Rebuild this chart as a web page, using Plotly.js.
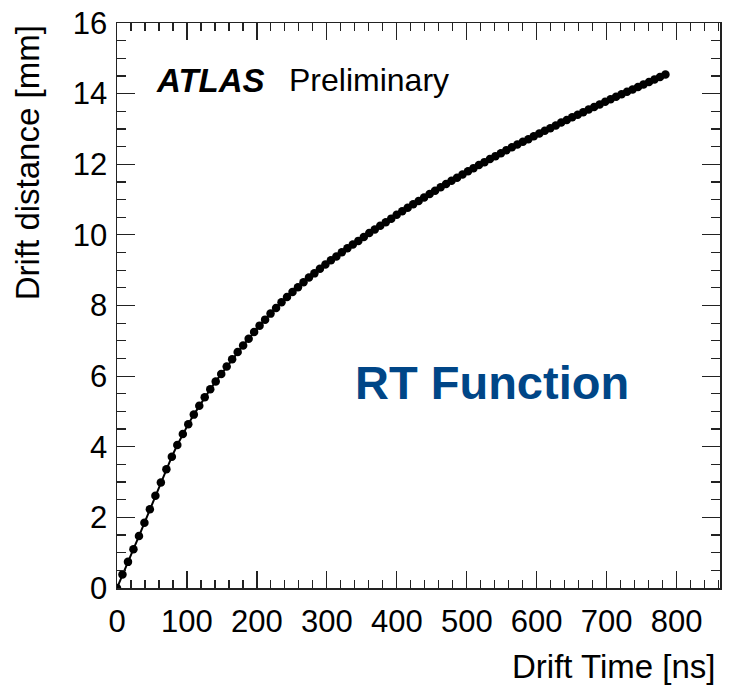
<!DOCTYPE html>
<html>
<head>
<meta charset="utf-8">
<script src="https://cdn.plot.ly/plotly-3.0.1.min.js"></script>
<style>html,body{margin:0;padding:0;background:#fff;}#chart{width:730px;height:686px;}</style>
</head>
<body>
<div id="chart"></div>
<script>
// Drift time [ns]
const driftTime = [0, 7.8, 15.7, 23.5, 31.4, 39.2, 47.0, 54.9, 62.7, 70.6, 78.4, 86.2, 94.1, 101.9, 109.8, 117.6, 125.4, 133.3, 141.1, 149.0,
  156.8, 164.6, 172.5, 180.3, 188.2, 196.0, 203.8, 211.7, 219.5, 227.4, 235.2, 243.0, 250.9, 258.7, 266.6, 274.4, 282.2, 290.1, 297.9, 305.8,
  313.6, 321.4, 329.3, 337.1, 345.0, 352.8, 360.6, 368.5, 376.3, 384.2, 392.0, 399.8, 407.7, 415.5, 423.4, 431.2, 439.0, 446.9, 454.7, 462.6,
  470.4, 478.2, 486.1, 493.9, 501.8, 509.6, 517.4, 525.3, 533.1, 541.0, 548.8, 556.6, 564.5, 572.3, 580.2, 588.0, 595.8, 603.7, 611.5, 619.4,
  627.2, 635.0, 642.9, 650.7, 658.6, 666.4, 674.2, 682.1, 689.9, 697.8, 705.6, 713.4, 721.3, 729.1, 737.0, 744.8, 752.6, 760.5, 768.3, 776.2, 784.0];
// Drift distance [mm]
const driftDistance = [0, 0.38, 0.74, 1.10, 1.47, 1.85, 2.23, 2.61, 2.99, 3.36, 3.72, 4.05, 4.36, 4.64, 4.91, 5.16, 5.40, 5.63, 5.85, 6.06,
  6.27, 6.48, 6.68, 6.87, 7.06, 7.25, 7.43, 7.60, 7.77, 7.93, 8.09, 8.24, 8.38, 8.52, 8.66, 8.79, 8.91, 9.04, 9.16, 9.28,
  9.39, 9.51, 9.62, 9.73, 9.83, 9.94, 10.05, 10.15, 10.26, 10.36, 10.46, 10.57, 10.67, 10.77, 10.87, 10.96, 11.06, 11.16, 11.25, 11.35,
  11.44, 11.53, 11.62, 11.71, 11.80, 11.89, 11.98, 12.06, 12.15, 12.23, 12.31, 12.40, 12.48, 12.56, 12.64, 12.71, 12.79, 12.87, 12.95, 13.02,
  13.10, 13.18, 13.25, 13.33, 13.40, 13.47, 13.55, 13.62, 13.69, 13.77, 13.84, 13.91, 13.98, 14.05, 14.12, 14.19, 14.26, 14.33, 14.40, 14.47, 14.54];

const xTickVals = [0, 100, 200, 300, 400, 500, 600, 700, 800];
const yTickVals = [0, 2, 4, 6, 8, 10, 12, 14, 16];

const FONT = 'Liberation Sans, Arial, sans-serif';

const trace = {
  x: driftTime,
  y: driftDistance,
  type: 'scatter',
  mode: 'lines+markers',
  line: {color: '#000', width: 2},
  marker: {color: '#000', size: 8.5, symbol: 'circle'},
  hoverinfo: 'skip',
  showlegend: false
};

const axisCommon = {
  showgrid: false,
  zeroline: false,
  showline: true,
  linecolor: '#222',
  linewidth: 1.5,
  mirror: 'ticks',
  ticks: 'inside',
  tickcolor: '#222',
  tickwidth: 1.2,
  tickfont: {family: FONT, size: 31, color: '#000'},
  fixedrange: true
};

const layout = {
  width: 730,
  height: 686,
  margin: {l: 117, r: 10, t: 23, b: 98},
  paper_bgcolor: '#fff',
  plot_bgcolor: '#fff',
  xaxis: Object.assign({}, axisCommon, {
    range: [0, 862],
    tickmode: 'array',
    tickvals: xTickVals,
    ticktext: xTickVals.map(String),
    ticklen: 17,
    ticklabelstandoff: 5,
    minor: {dtick: 20, tick0: 0, ticklen: 8, ticks: 'inside', tickcolor: '#222', tickwidth: 1.2}
  }),
  yaxis: Object.assign({}, axisCommon, {
    range: [0, 16],
    tickmode: 'array',
    tickvals: yTickVals,
    ticktext: yTickVals.map(String),
    ticklen: 18,
    ticklabelstandoff: 2,
    minor: {dtick: 0.5, tick0: 0, ticklen: 9, ticks: 'inside', tickcolor: '#222', tickwidth: 1.2}
  }),
  annotations: [
    {text: 'Drift distance [mm]', xref: 'paper', yref: 'paper', x: -0.148, y: 1.0,
     xanchor: 'center', yanchor: 'top', textangle: -90, showarrow: false,
     font: {family: FONT, size: 33, color: '#000'}},
    {text: 'Drift Time [ns]', xref: 'paper', yref: 'paper', x: 0.997, y: -0.139,
     xanchor: 'right', yanchor: 'middle', showarrow: false,
     font: {family: FONT, size: 33, color: '#000'}},
    {text: '<b><i>ATLAS</i></b>', xref: 'paper', yref: 'paper', x: 0.062, y: 0.899,
     xanchor: 'left', yanchor: 'middle', showarrow: false,
     font: {family: FONT, size: 33, color: '#000'}},
    {text: 'Preliminary', xref: 'paper', yref: 'paper', x: 0.282, y: 0.899,
     xanchor: 'left', yanchor: 'middle', showarrow: false,
     font: {family: FONT, size: 32, color: '#000'}},
    {text: '<b>RT Function</b>', xref: 'paper', yref: 'paper', x: 0.392, y: 0.363,
     xanchor: 'left', yanchor: 'middle', showarrow: false,
     font: {family: FONT, size: 47, color: '#004687'}}
  ]
};

Plotly.newPlot('chart', [trace], layout, {staticPlot: true, displayModeBar: false});
</script>
</body>
</html>
